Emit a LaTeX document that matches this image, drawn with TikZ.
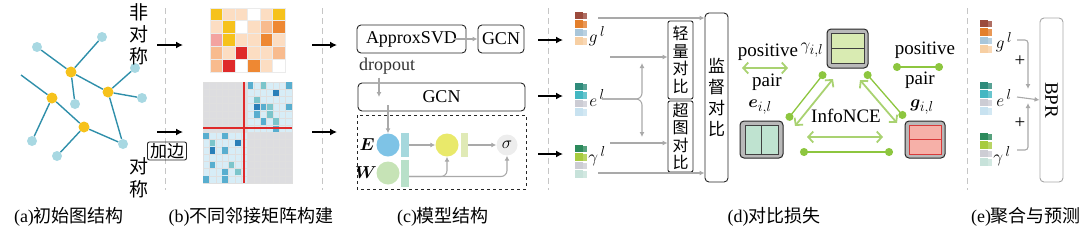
\documentclass[tikz,border=0pt]{standalone}
\usepackage{fontspec}
\usepackage{bm}
\setmainfont{Liberation Serif}
\newfontfamily\cjk{Noto Sans CJK SC}
\usetikzlibrary{arrows.meta, positioning}

\definecolor{edgeblue}{HTML}{2F8FAA}
\definecolor{nodeblue}{HTML}{A8D8E2}
\definecolor{nodeyel}{HTML}{F6C21C}
\definecolor{arrgray}{HTML}{A9A9A9}
\definecolor{pgreen}{HTML}{A9D271}
\definecolor{dgreen}{HTML}{8DC63F}
\definecolor{mY}{HTML}{F6C21C}
\definecolor{mP}{HTML}{FCDDC2}
\definecolor{mW}{HTML}{FFFFFF}
\definecolor{mQ}{HTML}{F8BB8E}
\definecolor{mO}{HTML}{EE8833}
\definecolor{mK}{HTML}{F3A3A0}
\definecolor{mR}{HTML}{DF2A2A}
\definecolor{qgray}{HTML}{DDDDE0}
\definecolor{qblue}{HTML}{D7EDF7}
\definecolor{b1}{HTML}{2A7FB8}
\definecolor{b2}{HTML}{58AECF}
\definecolor{b3}{HTML}{7CC5CB}
\definecolor{cblue}{HTML}{7EC3E6}
\definecolor{cteal}{HTML}{A6D8DD}
\definecolor{cgreen}{HTML}{C6E3B6}
\definecolor{cgteal}{HTML}{B8E0C9}
\definecolor{cyel}{HTML}{E9E96A}
\definecolor{cyrect}{HTML}{E0EAB6}
\definecolor{gA}{HTML}{9B4A3C}
\definecolor{gB}{HTML}{E37F2C}
\definecolor{gC}{HTML}{A9C6DA}
\definecolor{gD}{HTML}{F7CFA3}
\definecolor{eA}{HTML}{2F8B7B}
\definecolor{eB}{HTML}{43B7C2}
\definecolor{eC}{HTML}{CCCCD4}
\definecolor{eD}{HTML}{C8E2F0}
\definecolor{yA}{HTML}{2C8A5C}
\definecolor{yB}{HTML}{A7CB3E}
\definecolor{yC}{HTML}{CDCDD4}
\definecolor{yD}{HTML}{C7E2DA}
\definecolor{gamfill}{HTML}{D9EBB2}
\definecolor{efill}{HTML}{BFE3D0}
\definecolor{gfill}{HTML}{F6B0A8}
\definecolor{gred}{HTML}{D83A3A}

\newcommand{\embvec}[6]{%
  \foreach \c [count=\k from 0] in {#3,#4,#5,#6}{
    \fill[\c] (#1,{#2+\k*8.4}) rectangle ++(7.5,7.4);
    \fill[\c!80!white] ({#1+8},{#2+\k*8.4+1}) rectangle ++(4,6.4);
  }}

\begin{document}
\begin{tikzpicture}[x=1pt,y=-1pt,font=\fontsize{19}{22}\selectfont,
  gedge/.style={draw=edgeblue, line width=1.4pt},
  lnode/.style={circle, fill=nodeblue, minimum size=10pt, inner sep=0pt},
  ynode/.style={circle, fill=nodeyel, minimum size=11pt, inner sep=0pt},
  sep/.style={draw=gray!45, line width=0.8pt, dash pattern=on 6pt off 4pt},
  barrow/.style={line width=2.2pt, -{Latex[length=7pt,width=7pt]}},
  garrow/.style={draw=arrgray, line width=1.1pt, -{Latex[length=5pt,width=5pt]}},
  rbox/.style={draw=black!85, line width=0.9pt, rounded corners=4pt, inner sep=0pt},
  vbox/.style={draw=black!85, line width=0.9pt, rounded corners=2pt, inner sep=0pt, align=center, font=\cjk\fontsize{16}{17.5}\selectfont},
  obox/.style={draw=black!85, fill=gray!55, line width=1pt, rounded corners=4pt, inner sep=0pt},
  captxt/.style={font=\fontsize{18}{20}\selectfont},
  parr/.style={draw=pgreen, line width=1.8pt, {Straight Barb[length=5pt,width=11pt]}-{Straight Barb[length=5pt,width=11pt]}},
  pdot/.style={draw=dgreen, line width=1.3pt, {Circle[length=8pt]}-{Circle[length=8pt]}}]
\useasboundingbox (0,0) rectangle (1090,234);

\foreach \x in {165,322,548,967} \draw[sep] (\x,8) -- (\x,190);

\foreach \n/\x/\y in {l1/37/47, l2/102/37, l3/135/68, l4/142/98, l5/75/104, l6/32/141, l7/57/156, l8/123/144}
  \node[lnode] (\n) at (\x,\y) {};
\foreach \n/\x/\y in {y1/71/72, y2/108/92, y3/52/98, y4/84/127}
  \node[ynode] (\n) at (\x,\y) {};
\coordinate (fr) at (21,75);
\draw[gedge] (l1)--(y1) (l2)--(y1) (y1)--(l5) (y1)--(y2) (y2)--(l3) (y2)--(l4) (y2)--(l8)
  (fr)--(y3) (y3)--(y4) (y3)--(l6) (y4)--(l7) (y4)--(l8);

\node[font=\cjk\fontsize{19}{22}\selectfont, align=center] (asym) at (139,34) {非\\对\\称};
\node[font=\cjk\fontsize{19}{23}\selectfont, align=center] (sym) at (139,178) {对\\称};
\node[rbox, rounded corners=2pt, minimum width=39, minimum height=18, font=\cjk\fontsize{17}{19}\selectfont] (addE) at (167,151) {加边};
\coordinate (a1) at (157,45); \coordinate (a2) at (183,45);
\coordinate (a3) at (157,132); \coordinate (a4) at (183,132);
\draw[barrow] (a1) -- (a2);
\draw[barrow] (a3) -- (a4);

\foreach \row [count=\j from 0] in {{mY,mP,mP,mW,mP,mY},{mP,mY,mW,mP,mQ,mO},{mK,mY,mP,mP,mO,mP},{mQ,mP,mR,mP,mP,mQ},{mQ,mR,mW,mO,mP,mW}}
  \foreach \c [count=\i from 0] in \row
    \filldraw[fill=\c, draw=black!8, line width=0.8pt] ({210+\i*12.5},{8+\j*12.8}) rectangle ++(12.5,12.8);

\foreach \i in {0,...,13}{\foreach \j in {0,...,13}{
  \pgfmathtruncatemacro\q{(\i<7)==(\j<7)}
  \ifnum\q=1 \def\qc{qgray}\else\def\qc{qblue}\fi
  \filldraw[fill=\qc, draw=white!75!gray, line width=0.4pt] ({203+\i*6.36},{82+\j*7.21}) rectangle ++(6.36,7.21);
}}
\foreach \i/\j/\c in {7/0/b2, 9/0/b3, 13/0/b2, 11/1/b1, 8/2/b3, 8/3/b1, 9/3/b2, 10/3/b3, 13/3/b2, 8/4/b2, 10/4/b3, 9/5/b2, 11/5/b3, 11/6/b2,
  0/7/b2, 3/7/b2, 1/8/b3, 5/8/b1, 1/9/b1, 3/9/b2, 1/11/b2, 4/11/b3, 3/12/b2, 5/12/b3, 0/13/b2, 3/13/b2}
  \fill[\c] ({203+\i*6.36+0.4},{82+\j*7.21+0.4}) rectangle ++(5.56,6.41);
\draw[draw=mR, line width=1.6pt] (244,82) -- (244,183) (203,128) -- (292,128);

\coordinate (b1s) at (312,45); \coordinate (b1e) at (337,45);
\coordinate (b2s) at (312,132); \coordinate (b2e) at (337,132);
\draw[barrow] (b1s) -- (b1e);
\draw[barrow] (b2s) -- (b2e);

\node[rbox, minimum width=109, minimum height=28, font=\fontsize{18}{20}\selectfont] (svd) at (411.5,39) {ApproxSVD};
\node[rbox, minimum width=46, minimum height=28, font=\fontsize{18}{20}\selectfont] (gcna) at (501,39) {GCN};
\draw[garrow] ([xshift=-12pt]svd.east) -- (gcna.west);
\node[font=\fontsize{18}{20}\selectfont, text=black!80] (drop) at (387,66) {dropout};
\node[rbox, minimum width=167, minimum height=28, font=\fontsize{18}{20}\selectfont] (gcnb) at (441.5,97) {GCN};
\draw[garrow] ([xshift=-8pt]drop.south) -- ([xshift=-8pt]drop.south |- gcnb.center);
\draw[draw=black!85, line width=1pt, dashed] (357,115) rectangle (526,189);
\node[circle, fill=cblue, minimum size=23pt, inner sep=0pt] (ec) at (388,145) {};
\node[fill=cteal, minimum width=8pt, minimum height=24pt, inner sep=0pt] (er) at (405,145) {};
\node[circle, fill=cgreen, minimum size=23pt, inner sep=0pt] (wc) at (388,173) {};
\node[fill=cgteal, minimum width=8pt, minimum height=27pt, inner sep=0pt] (wr) at (405,173.5) {};
\node[circle, fill=cyel, minimum size=23pt, inner sep=0pt] (yc) at (447,145) {};
\node[fill=cyrect, minimum width=7pt, minimum height=24pt, inner sep=0pt] (yr) at (464.5,145) {};
\node[circle, fill=gray!14, minimum size=21pt, inner sep=0pt] (sc) at (507,145) {$\sigma$};
\node (elab) at (367,145) {$\bm{E}$};
\node (wlab) at (366,173) {$\bm{W}$};
\draw[garrow] ([yshift=6pt]ec.north |- gcnb.south) -- (ec.north);
\draw[garrow] (er) -- (yc);
\draw[garrow] (yr) -- (sc);
\draw[garrow, rounded corners=6pt] ([yshift=-3pt]wr.east) -| (yc.south);
\draw[garrow, rounded corners=6pt] ([yshift=-3pt]wr.east) -| (sc.south);

\coordinate (c1s) at (538,40); \coordinate (c1e) at (563,40);
\coordinate (c2s) at (538,96); \coordinate (c2e) at (563,96);
\coordinate (c3s) at (538,154); \coordinate (c3e) at (563,154);
\draw[barrow] (c1s) -- (c1e);
\draw[barrow] (c2s) -- (c2e);
\draw[barrow] (c3s) -- (c3e);

\embvec{575}{12}{gA}{gB}{gC}{gD}
\embvec{575}{83}{eA}{eB}{eC}{eD}
\embvec{575}{145}{yA}{yB}{yC}{yD}
\node (gl) at (597,36) {$g^{\,l}$};
\node (el) at (597,98) {$e^{\,l}$};
\node (yl) at (597,156) {$\gamma^{\,l}$};

\node[vbox, minimum width=25, minimum height=78] (lite) at (680.5,60) {轻\\量\\对\\比};
\node[vbox, minimum width=25, minimum height=71] (hyp) at (680.5,136.5) {超\\图\\对\\比};
\node[vbox, rounded corners=4pt, minimum width=23, minimum height=169, font=\cjk\fontsize{17}{21}\selectfont] (sup) at (716.5,97.5) {监\\督\\对\\比};
\coordinate (d1) at (598,18); \coordinate (d2) at (610,57);
\coordinate (d3) at (610,143); \coordinate (d4) at (598,173);
\coordinate (d5) at (602,99);
\draw[garrow] (d1) -- (d1 -| sup.west);
\draw[garrow] (d2) -- (d2 -| lite.west);
\draw[garrow] (d3) -- (d3 -| hyp.west);
\draw[garrow] (d4) -- (d4 -| sup.west);
\draw[garrow, rounded corners=6pt] (d5) -| (642,63);
\draw[garrow, rounded corners=6pt] (d5) -| (642,137);

\node[obox, minimum width=41, minimum height=39] (gam) at (847.5,48.5) {};
\draw[fill=gamfill, draw=black!75, line width=0.8pt] (831,33) rectangle (864,48) (831,48) rectangle (864,63);
\node[obox, minimum width=43, minimum height=37] (ebox) at (761.5,139.5) {};
\draw[fill=efill, draw=black!75, line width=0.8pt] (745,125) rectangle (761.5,154) (761.5,125) rectangle (778,154);
\node[obox, minimum width=40, minimum height=37] (gbox) at (925,139.5) {};
\draw[fill=gfill, draw=gred, line width=0.8pt] (909,125) rectangle (941,139.5) (909,139.5) rectangle (941,154);
\node (gaml) at (812,50) {$\gamma_{i,l}$};
\node (elb) at (760,107) {$\bm{e}_{i,l}$};
\node (glb) at (922,107) {$\bm{g}_{i,l}$};
\node (pos1) at (768,52) {positive};
\node (pair1) at (767,82) {pair};
\node (pos2) at (925,50) {positive};
\node (pair2) at (920,80) {pair};
\node (nce) at (846,116) {InfoNCE};
\coordinate (p1) at (742,68); \coordinate (p2) at (788,68);
\draw[parr] (p1) -- (p2);
\coordinate (q1) at (893,67); \coordinate (q2) at (943,67);
\draw[pdot] (q1) -- (q2);
\coordinate (t1) at (787,120); \coordinate (t2) at (825,72);
\coordinate (t3) at (865,72); \coordinate (t4) at (905,118);
\coordinate (t5) at (800,152); \coordinate (t6) at (893,152);
\draw[pdot] (t1) -- (t2);
\draw[pdot] (t3) -- (t4);
\draw[pdot] (t5) -- (t6);
\coordinate (u1) at (795,126); \coordinate (u2) at (833,79);
\coordinate (u3) at (860,80); \coordinate (u4) at (897,123);
\coordinate (u5) at (807,137); \coordinate (u6) at (883,137);
\draw[parr] (u1) -- (u2);
\draw[parr] (u3) -- (u4);
\draw[parr] (u5) -- (u6);

\embvec{980}{20}{gA}{gB}{gC}{gD}
\embvec{980}{82}{eA}{eB}{eC}{eD}
\embvec{980}{133}{yA}{yB}{yC}{yD}
\node (gl2) at (1004,42) {$g^{\,l}$};
\node (el2) at (1004,98) {$e^{\,l}$};
\node (yl2) at (1002,156) {$\gamma^{\,l}$};
\node[draw=gray!70, line width=0.9pt, rounded corners=4pt, minimum width=23, minimum height=164, inner sep=0pt] (bpr) at (1051.5,100) {};
\node[rotate=-90] at (bpr.center) {BPR};
\coordinate (e1) at (1017,40); \coordinate (e2) at (1017,97); \coordinate (e3) at (1017,150);
\draw[garrow, rounded corners=3pt] (e1) -| (1028,89);
\draw[garrow, rounded corners=3pt] (e3) -| (1028,103);
\draw[garrow] (e2) -- (bpr.west);
\node (plus1) at (1020,61) {+};
\node (plus2) at (1020,123) {+};

\node[captxt] (capa) at (69,217) {(a){\cjk 初始图结构}};
\node[captxt] (capb) at (251,217) {(b){\cjk 不同邻接矩阵构建}};
\node[captxt] (capc) at (443,217) {(c){\cjk 模型结构}};
\node[captxt] (capd) at (774,217) {(d){\cjk 对比损失}};
\node[captxt] (cape) at (1026,217) {(e){\cjk 聚合与预测}};
\end{tikzpicture}
\end{document}
